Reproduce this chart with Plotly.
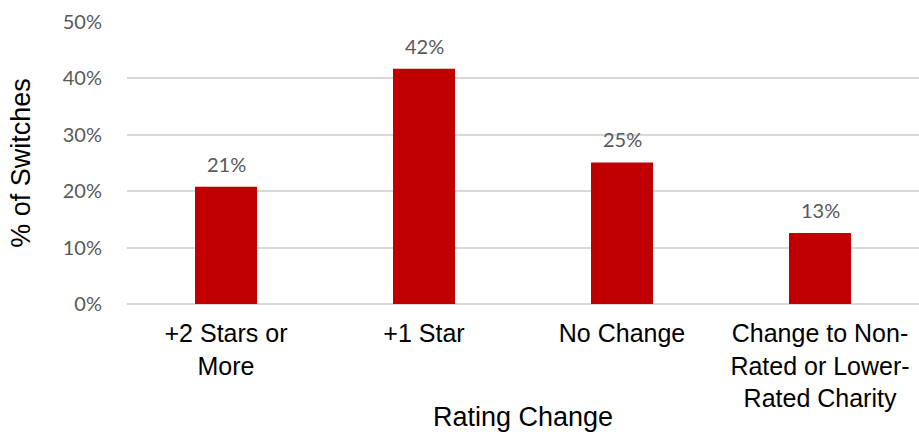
import plotly.graph_objects as go

categories = ["+2 Stars or<br>More", "+1 Star", "No Change", "Change to Non-<br>Rated or Lower-<br>Rated Charity"]
values = [0.208, 0.417, 0.251, 0.126]
y_ticks = [0, 0.1, 0.2, 0.3, 0.4, 0.5]
y_tick_labels = ["0%", "10%", "20%", "30%", "40%", "50%"]

BAR_COLOR = "#C00000"
GRAY = "#595959"
LABEL_FONT = "Lato, Open Sans, sans-serif"
TITLE_FONT = "Liberation Sans, Arial, sans-serif"

fig = go.Figure()
fig.add_trace(go.Bar(
    x=categories,
    y=values,
    marker=dict(color=BAR_COLOR, line=dict(width=0)),
    width=0.313,
    hoverinfo="skip",
))

for c, v in zip(categories, values):
    fig.add_annotation(
        x=c, y=v, text=f"{round(v*100)}%", showarrow=False,
        yanchor="bottom", yshift=9,
        font=dict(family=LABEL_FONT, size=20, color=GRAY),
    )

fig.update_layout(
    width=919, height=432,
    margin=dict(l=127, r=0, t=22, b=128),
    paper_bgcolor="white", plot_bgcolor="white",
    showlegend=False,
    xaxis=dict(
        title=dict(text="Rating Change", font=dict(family=TITLE_FONT, size=27, color="black"), standoff=2),
        tickfont=dict(family=TITLE_FONT, size=25, color="black"),
        showgrid=False, zeroline=False, showline=False,
        ticks="", tickangle=0, ticklabelstandoff=12, automargin=False,
    ),
    yaxis=dict(
        title=dict(text="% of Switches", font=dict(family=TITLE_FONT, size=27, color="black"), standoff=24),
        range=[0, 0.5],
        tickvals=y_ticks, ticktext=y_tick_labels,
        tickfont=dict(family=LABEL_FONT, size=20, color=GRAY),
        showgrid=True, gridcolor="#D9D9D9", gridwidth=1.5,
        zeroline=True, zerolinecolor="#D9D9D9", zerolinewidth=1.5,
        showline=False, ticks="", ticklabelstandoff=24, automargin=False,
    ),
)

fig.write_html("out.html")
